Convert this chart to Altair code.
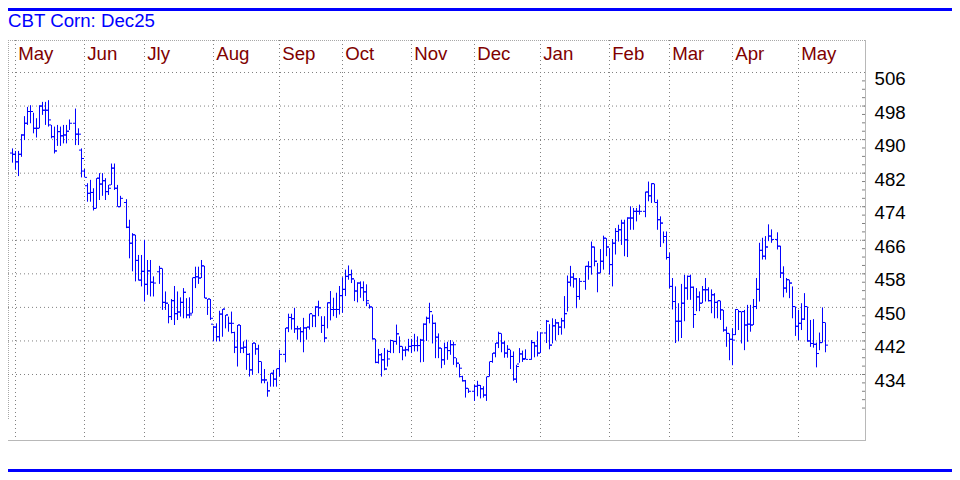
import altair as alt
import pandas as pd

TITLE = "CBT Corn: Dec25"
FIRST_DAY = "2024-04-29"
LAST_DAY = "2025-05-13"
HOLIDAYS = ["2024-05-27", "2024-06-19", "2024-07-04", "2024-09-02", "2024-11-28",
            "2024-12-25", "2025-01-01", "2025-01-20", "2025-02-17", "2025-04-18"]

OPEN = [
    486.8, 486.5, 484.7, 486.5, 491.1, 493.9, 496.7, 496.7, 492.7, 492.7, 498.0, 497.0, 497.0, 493.5, 490.7, 487.3, 491.9, 490.9, 491.1, 492.0,
    493.9, 491.3, 487.5, 482.5, 479.0, 477.2, 477.4, 473.6, 480.8, 479.4, 480.2, 477.6, 479.2, 483.2, 478.4, 474.0,
    475.0, 469.1, 465.3, 467.3, 461.2, 456.5, 458.6, 455.5, 458.7, 456.0,
    458.5, 459.3, 451.2, 451.0, 447.8, 451.6, 448.5, 448.9, 451.2, 453.6, 448.2,
    448.6, 457.1, 457.3, 457.0, 459.9, 452.2, 452.0, 446.0, 445.3, 443.0,
    448.4, 449.6, 448.2, 446.2, 444.0, 440.5, 445.8, 440.3, 440.5, 438.8,
    435.1, 441.5, 440.1, 437.1, 432.7, 432.7, 430.1, 434.3, 432.9, 435.4,
    438.8, 445.1, 447.6, 447.3, 444.9, 444.9, 444.2, 445.1, 445.3,
    448.5, 448.0, 450.1, 449.9, 445.7, 442.7, 451.1, 449.5, 449.5, 449.5,
    452.8, 454.3, 457.4, 457.8, 456.8, 453.9, 455.8, 454.7, 453.7, 451.0,
    450.1, 442.5, 436.9, 438.7, 437.5, 435.3, 439.5, 442.1, 441.9, 443.7,
    440.7, 439.8, 439.9, 440.7, 440.9, 440.9, 440.9, 442.2, 446.0, 447.4,
    449.0, 446.2, 442.9, 440.3, 437.5, 440.4, 439.7, 441.1, 438.0, 436.7, 433.5, 432.5, 430.7,
    430.0, 431.2, 431.4, 430.6, 429.1, 433.5, 437.1, 439.1, 441.5, 443.8, 441.5, 439.1, 440.0, 438.3, 432.9, 436.5, 438.9, 437.8,
    437.6, 441.6, 440.8, 439.1,
    443.9, 446.7, 441.0, 445.6, 446.3, 445.3, 446.8, 448.5, 456.0, 457.2, 456.8, 452.6,
    456.2, 459.8, 459.7, 464.4, 461.0, 458.2, 461.0, 466.5, 464.4, 460.2, 465.3, 468.1, 468.5, 470.1, 466.1, 471.3, 471.3, 472.9, 472.9,
    472.9, 477.5, 476.6, 479.5, 475.0, 470.9, 470.1, 466.9, 461.9,
    455.0, 451.4, 446.7, 446.7, 451.0, 454.6, 457.4, 454.8, 448.3, 452.5,
    451.0, 454.2, 454.2, 451.6, 453.0, 451.2, 451.6, 449.4, 444.6, 443.8,
    442.4, 443.5, 449.5, 449.0, 449.0, 445.8, 446.0, 445.8, 450.2, 454.3,
    463.6, 462.2, 464.4, 467.0,
    466.2, 464.6, 458.2, 454.6, 456.6, 455.8, 450.2, 445.5, 446.2, 447.2, 450.2, 442.0, 441.4, 441.2, 439.0, 441.6, 446.4,
]
HIGH = [
    487.9, 487.3, 487.3, 491.3, 495.6, 497.8, 498.2, 496.4, 495.1, 498.2, 499.0, 499.0, 499.4, 493.5, 493.1, 493.5, 493.1, 493.5, 493.5, 494.8,
    497.4, 492.7, 487.9, 483.0, 479.6, 480.4, 478.4, 480.8, 482.0, 482.0, 480.8, 479.2, 484.3, 484.3, 479.2, 476.6,
    475.8, 470.9, 467.7, 467.3, 462.5, 462.5, 466.1, 461.3, 461.3, 457.4,
    459.9, 459.3, 453.8, 450.8, 452.0, 455.1, 453.8, 452.4, 454.6, 452.2, 452.4,
    457.1, 459.7, 459.7, 461.3, 459.9, 452.0, 452.0, 445.6, 446.2, 449.2,
    449.6, 448.2, 447.8, 449.0, 444.2, 445.8, 445.8, 441.9, 442.3, 439.1,
    441.5, 441.5, 441.1, 437.1, 435.3, 432.3, 434.3, 435.1, 435.4, 439.9,
    445.1, 448.5, 448.5, 449.9, 445.6, 445.3, 447.5, 445.3, 448.5,
    448.3, 450.3, 451.6, 447.9, 447.9, 451.2, 453.9, 452.3, 453.5, 455.1,
    457.2, 459.0, 460.0, 459.0, 456.6, 456.0, 456.2, 456.2, 455.5, 450.7,
    450.1, 442.5, 440.1, 439.1, 440.3, 439.9, 442.3, 442.1, 445.9, 443.1,
    440.7, 440.7, 442.5, 442.5, 443.7, 443.1, 442.5, 446.2, 447.8, 451.1,
    448.3, 446.4, 443.8, 440.3, 441.6, 441.8, 442.2, 441.8, 437.9, 436.5, 433.7, 432.7, 430.7,
    431.5, 432.5, 431.5, 431.2, 433.5, 437.1, 439.1, 441.5, 444.2, 443.8, 442.0, 441.0, 439.9, 439.5, 436.3, 440.3, 439.7, 440.0,
    442.2, 441.8, 444.3, 444.0,
    447.0, 446.0, 447.4, 447.2, 446.5, 447.5, 452.7, 457.6, 459.9, 458.2, 457.0, 457.0,
    459.9, 461.0, 465.7, 464.5, 460.6, 463.9, 467.1, 466.5, 464.1, 466.3, 468.9, 469.7, 470.9, 470.9, 471.5, 474.1, 473.7, 473.7, 474.5,
    477.6, 480.0, 479.6, 479.5, 475.7, 471.7, 468.1, 468.1, 463.0,
    457.0, 455.0, 451.0, 455.6, 457.8, 457.6, 457.8, 455.0, 454.6, 453.8,
    455.1, 457.0, 454.8, 454.3, 453.4, 451.6, 451.6, 449.4, 445.4, 443.8,
    445.0, 449.6, 449.4, 449.0, 449.4, 450.6, 450.6, 452.0, 457.0, 465.4,
    466.6, 467.0, 469.8, 468.6,
    467.9, 464.7, 459.8, 457.0, 456.6, 455.0, 450.2, 449.4, 451.0, 453.4, 450.2, 447.0, 447.2, 441.6, 444.0, 450.0, 446.4,
]
LOW = [
    484.5, 482.8, 481.3, 485.9, 489.9, 493.5, 493.9, 491.5, 490.5, 492.7, 495.9, 493.5, 493.1, 490.3, 486.7, 488.5, 488.5, 489.1, 489.1, 492.3,
    488.7, 488.7, 481.0, 481.0, 475.2, 475.2, 473.1, 473.6, 475.6, 476.6, 475.6, 476.8, 479.2, 478.0, 474.0, 474.0,
    468.9, 461.7, 458.6, 456.2, 456.4, 455.0, 451.4, 453.0, 452.6, 452.6,
    455.6, 449.4, 449.4, 446.2, 447.0, 445.8, 447.0, 447.8, 447.4, 447.4, 447.4,
    448.6, 454.6, 455.6, 457.0, 452.2, 448.2, 447.0, 441.9, 441.9, 441.9,
    443.0, 445.0, 444.2, 443.8, 439.1, 435.9, 439.1, 439.1, 435.1, 433.5,
    433.9, 438.7, 434.3, 431.9, 431.9, 428.7, 431.1, 431.1, 431.1, 433.5,
    436.9, 444.1, 444.7, 443.9, 442.3, 441.7, 439.3, 442.3, 444.7,
    445.3, 445.3, 447.9, 443.9, 441.7, 445.0, 446.9, 447.9, 447.5, 448.3,
    448.7, 452.7, 456.6, 455.8, 451.5, 451.2, 452.3, 451.5, 450.3, 449.7,
    442.3, 436.7, 436.6, 433.5, 435.0, 435.9, 439.1, 439.1, 441.1, 439.1,
    437.4, 438.3, 439.5, 439.1, 439.5, 439.5, 436.9, 437.0, 442.0, 446.2,
    441.4, 437.9, 437.9, 435.5, 436.3, 437.5, 438.7, 436.3, 435.7, 433.3, 432.3, 428.5, 429.6,
    427.7, 428.8, 428.3, 428.5, 427.7, 433.5, 436.8, 438.1, 440.3, 439.3, 438.0, 438.0, 435.3, 432.5, 432.0, 436.8, 437.0, 437.6,
    437.5, 438.1, 438.3, 439.1,
    441.5, 440.0, 441.4, 442.1, 443.4, 443.5, 445.0, 449.0, 455.0, 454.7, 449.8, 451.8,
    454.2, 456.6, 457.8, 459.8, 453.6, 458.2, 459.0, 462.2, 457.8, 455.0, 462.6, 465.7, 464.9, 462.2, 462.0, 468.5, 468.5, 470.5, 472.1,
    471.5, 475.3, 474.9, 475.0, 468.5, 464.4, 465.3, 461.4, 454.6,
    449.5, 441.5, 441.9, 442.7, 446.7, 451.8, 451.8, 445.1, 449.1, 449.1,
    451.0, 451.4, 451.4, 448.6, 447.4, 447.4, 447.0, 444.2, 440.6, 437.4,
    436.2, 443.4, 444.6, 441.4, 439.8, 441.8, 444.2, 445.8, 449.6, 451.4,
    461.4, 461.4, 465.8, 465.4,
    463.8, 457.0, 452.4, 453.5, 452.2, 447.4, 443.2, 442.2, 444.6, 447.0, 441.8, 440.6, 440.4, 435.7, 439.8, 441.6, 439.3,
]
CLOSE = [
    486.5, 484.7, 486.5, 491.1, 493.9, 496.7, 496.7, 492.7, 492.7, 498.0, 497.0, 497.0, 494.7, 490.7, 487.3, 491.9, 490.9, 491.1, 492.0, 493.9,
    491.3, 491.3, 485.5, 481.0, 477.2, 477.4, 473.6, 480.8, 479.4, 480.2, 477.6, 478.4, 483.2, 478.4, 474.0, 476.0,
    469.1, 465.3, 467.3, 461.2, 456.5, 458.6, 455.5, 458.7, 456.0, 455.8,
    459.3, 451.2, 451.0, 447.8, 451.6, 448.5, 448.9, 451.2, 453.6, 448.2, 448.2,
    457.1, 457.3, 457.0, 459.9, 452.2, 452.0, 447.4, 445.3, 443.0, 448.4,
    449.6, 448.2, 446.2, 446.2, 440.5, 445.8, 440.3, 440.5, 438.8, 435.1,
    441.5, 440.1, 437.1, 432.7, 432.7, 430.1, 434.3, 432.9, 435.4, 438.8,
    445.1, 447.6, 447.3, 444.9, 444.9, 444.2, 445.1, 445.3, 448.5,
    448.0, 450.1, 449.9, 445.7, 442.7, 451.1, 449.5, 449.5, 449.5, 452.8,
    454.3, 457.4, 457.8, 456.8, 453.9, 455.8, 454.7, 453.7, 451.6, 450.1,
    442.5, 436.9, 438.7, 437.5, 435.3, 437.7, 442.1, 441.9, 443.7, 440.7,
    439.8, 439.9, 440.7, 440.9, 440.9, 440.9, 442.2, 446.0, 447.4, 449.0,
    446.2, 442.9, 440.3, 437.5, 440.4, 439.7, 441.1, 441.1, 436.7, 435.5, 432.5, 430.7, 430.0,
    431.2, 431.4, 430.6, 429.1, 433.5, 437.1, 439.1, 441.5, 443.8, 441.5, 439.1, 440.0, 438.3, 432.9, 435.9, 438.9, 437.6, 437.6,
    441.6, 440.8, 439.1, 443.9,
    446.7, 441.0, 445.6, 446.3, 445.3, 446.8, 448.5, 456.0, 457.2, 456.8, 452.6, 456.2,
    459.8, 459.7, 464.4, 461.0, 458.2, 461.0, 466.5, 464.4, 460.2, 465.3, 468.1, 468.5, 470.1, 466.1, 471.3, 471.3, 472.9, 472.9, 472.9,
    477.5, 476.6, 479.5, 475.0, 470.9, 470.1, 466.9, 461.9, 455.0,
    451.4, 446.7, 446.7, 451.0, 454.6, 457.4, 454.8, 448.3, 452.5, 451.0,
    454.2, 454.2, 451.6, 453.0, 451.2, 451.6, 449.4, 444.6, 443.8, 442.4,
    442.2, 449.5, 449.0, 449.0, 445.8, 446.0, 445.8, 450.2, 454.3, 463.6,
    462.2, 464.4, 467.0, 466.2,
    464.6, 458.2, 454.6, 456.6, 455.8, 450.2, 445.5, 446.2, 447.2, 450.2, 442.0, 441.4, 441.2, 439.0, 441.6, 446.4, 441.0,
]

MONTH_LABELS = ["May", "Jun", "Jly", "Aug", "Sep", "Oct", "Nov", "Dec",
                "Jan", "Feb", "Mar", "Apr", "May"]
MONTH_LINES = ["2024-04-30", "2024-05-31", "2024-06-28", "2024-07-31", "2024-08-30",
               "2024-09-30", "2024-10-31", "2024-11-29", "2024-12-31", "2025-01-31",
               "2025-02-28", "2025-03-31", "2025-04-30"]
Y_LABELS = [434, 442, 450, 458, 466, 474, 482, 490, 498, 506]
MINOR_TICKS = [426, 428, 430, 432, 434, 436, 438, 440, 442, 444, 446, 448, 450, 452,
               454, 456, 458, 460, 462, 464, 466, 468, 470, 472, 474, 476, 478, 480,
               482, 484, 486, 488, 490, 492, 494, 496, 498, 500, 502, 504]

# ---- build tables ----
weekdays = [d.strftime("%Y-%m-%d") for d in pd.bdate_range(FIRST_DAY, LAST_DAY)]
slot = {d: i for i, d in enumerate(weekdays)}
days = [d for d in weekdays if d not in HOLIDAYS]
assert len(days) == len(OPEN) == len(HIGH) == len(LOW) == len(CLOSE)

bars = pd.DataFrame({"day": days, "slot": [slot[d] for d in days],
                     "open": OPEN, "high": HIGH, "low": LOW, "close": CLOSE})
months = pd.DataFrame({"label": MONTH_LABELS, "slot": [slot[d] for d in MONTH_LINES]})
ylab = pd.DataFrame({"v": Y_LABELS, "t": [str(v) for v in Y_LABELS]})
minor = pd.DataFrame({"v": MINOR_TICKS})

W, H = 857, 400
FONT = "Liberation Sans"
FS = 18.67
BLUE = "#0000ff"

xs = alt.Scale(domain=[-1.5, 284.1667], nice=False, zero=False)
ys = alt.Scale(domain=[418.384, 513.748], nice=False, zero=False)

X = lambda f: alt.X(f, scale=xs, axis=None)
Y = lambda f: alt.Y(f, scale=ys, axis=None)

one = pd.DataFrame({"a": [0]})

frame_top = alt.Chart(one).mark_rule(color="#a8a8a8", strokeDash=[1, 1]).encode(
    x=alt.value(0), x2=alt.value(W), y=alt.value(0.5))
frame_left = alt.Chart(one).mark_rule(color="#a8a8a8", strokeDash=[1, 1]).encode(
    x=alt.value(0.5), y=alt.value(0), y2=alt.value(380))
frame_bottom = alt.Chart(one).mark_rule(color="#b8b8b8").encode(
    x=alt.value(0), x2=alt.value(W + 1), y=alt.value(H + 0.5))
frame_right = alt.Chart(one).mark_rule(color="#b8b8b8").encode(
    x=alt.value(W + 0.5), y=alt.value(0), y2=alt.value(H + 1))

hgrid = alt.Chart(ylab).mark_rule(color="#808080", strokeDash=[1, 3]).encode(
    y=Y("v:Q"), x=alt.value(0), x2=alt.value(W))
vgrid = alt.Chart(months).mark_rule(color="#808080", strokeDash=[1, 3]).encode(
    x=X("slot:Q"), y=alt.value(0), y2=alt.value(397))
ticks = alt.Chart(minor).mark_rule(color="#808080").encode(
    y=Y("v:Q"), x=alt.value(W - 3), x2=alt.value(W))

base = alt.Chart(bars)
hl = base.mark_rule(color=BLUE, strokeWidth=1).encode(
    x=X("slot:Q"), y=Y("low:Q"), y2="high:Q")
op = base.transform_calculate(a="datum.slot - 5/6", b="datum.slot - 1/6").mark_rule(
    color=BLUE, strokeWidth=1).encode(x=X("a:Q"), x2="b:Q", y=Y("open:Q"))
cl = base.transform_calculate(a="datum.slot + 1/6", b="datum.slot + 5/6").mark_rule(
    color=BLUE, strokeWidth=1).encode(x=X("a:Q"), x2="b:Q", y=Y("close:Q"))

mlab = alt.Chart(months).mark_text(
    align="left", baseline="alphabetic", dx=2.7, font=FONT, fontSize=FS, color="#800000"
).encode(x=X("slot:Q"), y=alt.value(19.7), text="label:N")

ytext = alt.Chart(ylab).mark_text(
    align="left", baseline="alphabetic", dy=12.5, font=FONT, fontSize=FS, color="#000000"
).encode(y=Y("v:Q"), x=alt.value(W + 9.5), text="t:N")

title = alt.Chart(pd.DataFrame({"t": [TITLE]})).mark_text(
    align="left", baseline="alphabetic", font=FONT, fontSize=FS, color=BLUE
).encode(x=alt.value(0), y=alt.value(-12.7), text="t:N")

TOP_PAD, BOTTOM_PAD, RIGHT_PAD = 32, 32, 87
blue_top = alt.Chart(one).mark_rule(color=BLUE, strokeWidth=3).encode(
    x=alt.value(0), x2=alt.value(W + RIGHT_PAD), y=alt.value(-TOP_PAD + 1.5))
blue_bottom = alt.Chart(one).mark_rule(color=BLUE, strokeWidth=3).encode(
    x=alt.value(0), x2=alt.value(W + RIGHT_PAD), y=alt.value(H + BOTTOM_PAD - 1.5))

chart = alt.layer(
    frame_top, frame_left, hgrid, vgrid, frame_bottom, frame_right, ticks,
    hl, op, cl, mlab, ytext, title, blue_top, blue_bottom
).properties(
    width=W, height=H,
    padding={"left": 0, "top": TOP_PAD, "right": RIGHT_PAD, "bottom": BOTTOM_PAD},
    autosize=alt.AutoSizeParams(type="none"),
    background="white",
).configure_view(stroke=None)

chart.save("out.html", embed_options={"renderer": "svg", "actions": False})
